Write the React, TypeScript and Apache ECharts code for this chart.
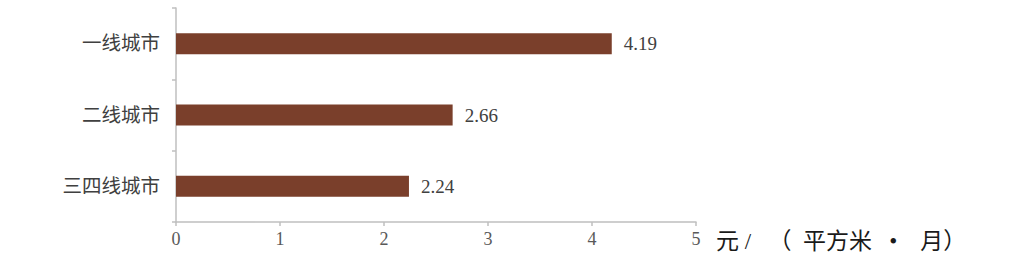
import React, { useEffect, useRef } from "react";
import * as echarts from "echarts";

const categories = ["一线城市", "二线城市", "三四线城市"];
const values = [4.19, 2.66, 2.24];
const xTicks = [0, 1, 2, 3, 4, 5];
const unitLabel = "元 /   （  平方米   •    月）";

export default function App() {
  const ref = useRef<HTMLDivElement>(null);
  useEffect(() => {
    if (!ref.current) return;
    const chart = echarts.init(ref.current, null, { renderer: "svg" });
    const serif = "'Liberation Serif', 'DejaVu Serif', 'Noto Sans CJK SC', serif";
    chart.setOption({
      animation: false,
      backgroundColor: "#ffffff",
      grid: { left: 176, right: 313, top: 8, bottom: 51, containLabel: false },
      xAxis: {
        type: "value",
        min: xTicks[0],
        max: xTicks[xTicks.length - 1],
        interval: 1,
        splitLine: { show: false },
        axisLine: { show: true, lineStyle: { color: "#bfbfbf", width: 1.5 } },
        axisTick: { show: true, length: 4, lineStyle: { color: "#bfbfbf", width: 1.5 } },
        axisLabel: { color: "#595959", fontSize: 18, fontFamily: serif, margin: 8 },
      },
      yAxis: {
        type: "category",
        data: categories,
        inverse: true,
        axisLine: { show: true, lineStyle: { color: "#bfbfbf", width: 1.5 } },
        axisTick: { show: true, length: 4, lineStyle: { color: "#bfbfbf", width: 1.5 } },
        axisLabel: { color: "#404040", fontSize: 19.5, fontFamily: serif, margin: 16 },
      },
      series: [
        {
          type: "bar",
          data: values,
          barWidth: 21,
          itemStyle: { color: "#7a3f2b" },
          label: {
            show: true,
            position: "right",
            distance: 12,
            color: "#404040",
            fontSize: 19,
            fontFamily: serif,
            formatter: (p: any) => p.value.toFixed(2),
          },
        },
      ],
      graphic: [
        {
          type: "text",
          left: 716,
          top: 230,
          style: {
            text: unitLabel,
            fontSize: 23,
            fill: "#1a1a1a",
            fontFamily: serif,
          },
        },
      ],
    });
    return () => chart.dispose();
  }, []);
  return (
    <div
      ref={ref}
      style={{ position: "fixed", left: 0, top: 0, width: 1009, height: 273 }}
    />
  );
}
